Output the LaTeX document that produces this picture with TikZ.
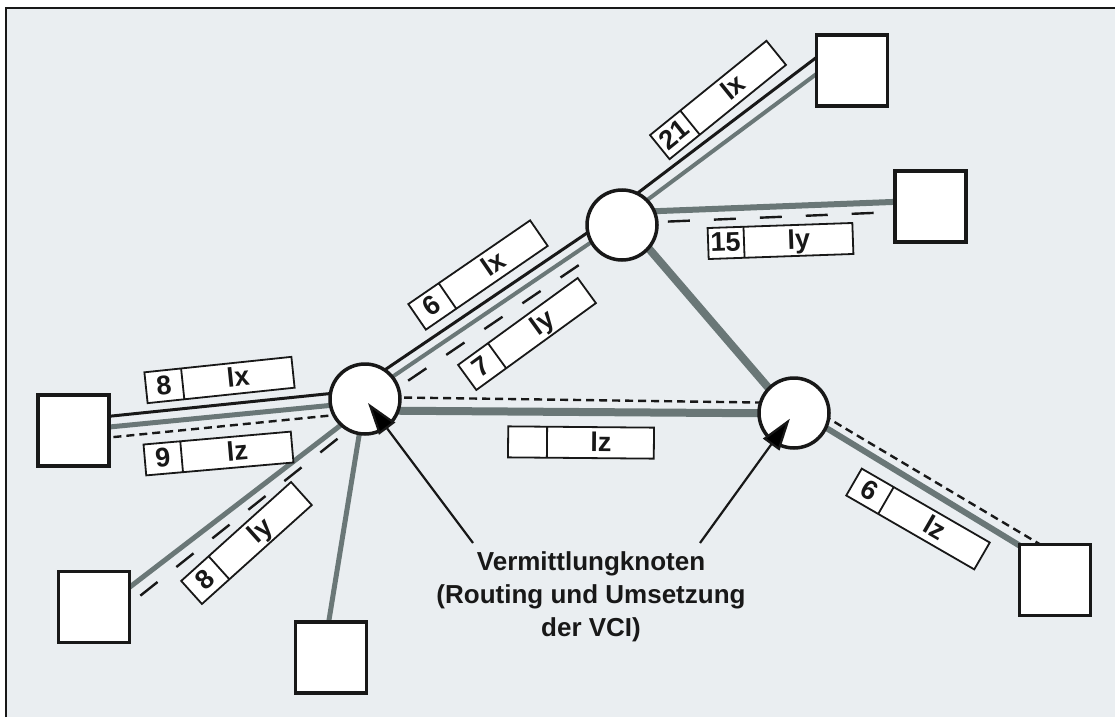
\documentclass[tikz,border=0pt]{standalone}
\usepackage{fontspec}
\setmainfont{Liberation Sans}
\usetikzlibrary{calc,shapes.multipart,arrows.meta}
\definecolor{paper}{RGB}{234,238,241}
\definecolor{wire}{RGB}{106,119,119}
\definecolor{ink}{RGB}{24,24,24}
\pgfdeclarelayer{links}
\pgfsetlayers{links,main}
\newcommand\vcicell[2]{\makebox[#1]{\rule[-7pt]{0pt}{31pt}#2}}

\begin{document}
\begin{tikzpicture}[x=1pt,y=-1pt,
    switch/.style={circle,draw=ink,line width=3.5pt,fill=white,minimum size=70pt,inner sep=0pt},
    term/.style={rectangle,draw=ink,line width=3.5pt,fill=white,minimum size=71pt,inner sep=0pt},
    vci/.style={rectangle split,rectangle split horizontal,rectangle split parts=2,
      draw=ink,line width=1.8pt,fill=white,inner sep=0pt,text=ink,
      font=\fontsize{27}{30}\selectfont\bfseries},
    thinline/.style={draw=ink,line width=3pt},
    finedash/.style={draw=ink,line width=2.4pt,dash pattern=on 8pt off 5pt},
    longdash/.style={draw=ink,line width=2.4pt,dash pattern=on 22pt off 24pt},
    pointer/.style={draw=ink,line width=2.2pt,-{Triangle[length=32pt,width=20pt]}}]
  \useasboundingbox (0,0) rectangle (1115,717);
  % switching nodes
  \node[switch] (sw1) at (365,399) {};
  \node[switch] (sw2) at (622,225) {};
  \node[switch] (sw3) at (794,413) {};
  % terminals
  \node[term] (t1) at (73.5,430.5) {};
  \node[term] (t2) at (94,607) {};
  \node[term] (t3) at (331,657.5) {};
  \node[term] (t4) at (852,70.5) {};
  \node[term] (t5) at (930.5,206.5) {};
  \node[term] (t6) at (1055,580) {};
  \begin{pgfonlayer}{links}
    \fill[paper] (6,8) rectangle (1115,717);
    \draw[ink,line width=2pt] (6,717) -- (6,8) -- (1115,8);
    % t1 -- sw1
    \draw[thinline] ($(t1)!10.5pt!90:(sw1)$) -- ($(sw1)!9pt!-90:(t1)$);
    \draw[wire,line width=5pt] (t1.center) -- ($(sw1)!3pt!90:(t1)$);
    \draw[finedash] ($(t1)!10.5pt!-90:(sw1)$) -- ($(sw1)!13pt!90:(t1)$);
    % sw1 -- sw2
    \draw[thinline] ($(sw1)!13pt!90:(sw2)$) -- ($(sw2)!13pt!-90:(sw1)$);
    \draw[wire,line width=4pt] ($(sw1)!3pt!90:(sw2)$) -- ($(sw2)!3pt!-90:(sw1)$);
    \draw[longdash] ($(sw1)!9pt!-90:(sw2)$) -- ($(sw2)!9pt!90:(sw1)$);
    % sw2 -- t4
    \draw[thinline] ($(sw2)!16pt!90:(t4)$) -- ($(t4)!32pt!-90:(sw2)$);
    \draw[wire,line width=4pt] ($(sw2)!5pt!90:(t4)$) -- ($(t4)!18.5pt!-90:(sw2)$);
    % sw2 -- t5
    \draw[wire,line width=6pt] ($(sw2)!12.5pt!90:(t5)$) -- ($(t5)!6pt!-90:(sw2)$);
    \draw[longdash] ($(sw2)!1.5pt!90:(t5)$) -- ($(t5)!4pt!90:(sw2)$);
    % sw2 -- sw3
    \draw[wire,line width=8pt] ($(sw2)!5pt!90:(sw3)$) -- ($(sw3)!3pt!90:(sw2)$);
    % sw1 -- sw3
    \draw[wire,line width=8pt] ($(sw1)!11.5pt!-90:(sw3)$) -- ($(sw3)!0.5pt!90:(sw1)$);
    \draw[finedash] ($(sw1)!2pt!90:(sw3)$) -- ($(sw3)!10pt!-90:(sw1)$);
    % sw3 -- t6
    \draw[wire,line width=6pt] ($(sw3)!4pt!90:(t6)$) -- ($(t6)!11pt!-90:(sw3)$);
    \draw[finedash] ($(sw3)!13pt!90:(t6)$) -- ($(t6)!23pt!-90:(sw3)$);
    % sw1 -- t2
    \draw[wire,line width=5pt] ($(sw1)!6pt!90:(t2)$) -- ($(t2)!6pt!-90:(sw1)$);
    \draw[longdash] ($(sw1)!14pt!90:(t2)$) -- ($(t2)!20pt!-90:(sw1)$);
    % sw1 -- t3
    \draw[wire,line width=5pt] (sw1.center) -- ($(t3)!8pt!90:(sw1)$);
  \end{pgfonlayer}
  % VCI labels
  \node[vci,rotate=6] (l1) at (219.5,380) {\vcicell{36pt}{8}\nodepart{two}\vcicell{110pt}{lx}};
  \node[vci,rotate=5] (l2) at (218.5,453.5) {\vcicell{36pt}{9}\nodepart{two}\vcicell{110pt}{lz}};
  \node[vci,rotate=42] (l3) at (246.5,543) {\vcicell{36pt}{8}\nodepart{two}\vcicell{110pt}{ly}};
  \node[vci,rotate=34.5] (l4) at (478,275) {\vcicell{36pt}{6}\nodepart{two}\vcicell{110pt}{lx}};
  \node[vci,rotate=36] (l5) at (527,334) {\vcicell{36pt}{7}\nodepart{two}\vcicell{110pt}{ly}};
  \node[vci,rotate=39] (l6) at (718,100) {\vcicell{38pt}{21}\nodepart{two}\vcicell{110pt}{lx}};
  \node[vci,rotate=2] (l7) at (780.5,241) {\vcicell{35pt}{15}\nodepart{two}\vcicell{108pt}{ly}};
  \node[vci,rotate=-0.5] (l8) at (581,442.5) {\vcicell{38pt}{}\nodepart{two}\vcicell{106pt}{lz}};
  \node[vci,rotate=-30] (l9) at (918,519) {\vcicell{36pt}{6}\nodepart{two}\vcicell{110pt}{lz}};
  % caption and pointers
  \node[font=\fontsize{26}{33}\selectfont\bfseries,text=ink,align=center,inner sep=0pt]
    (vlabel) at (591,597) {Vermittlungknoten\\(Routing und Umsetzung\\der VCI)};
  \coordinate (tailA) at (473,543);
  \coordinate (tailC) at (700,543);
  \draw[pointer,shorten >=5pt] (tailA) -- (sw1.center);
  \draw[pointer,shorten >=7pt] (tailC) -- (sw3.center);
\end{tikzpicture}
\end{document}
